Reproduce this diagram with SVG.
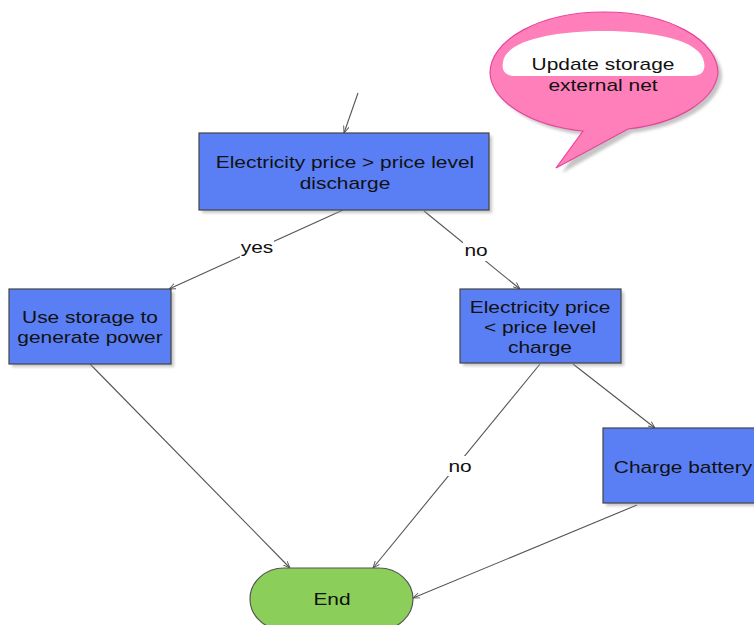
<svg xmlns="http://www.w3.org/2000/svg" width="754" height="625" viewBox="0 0 754 625">
  <style>
    .box { fill: #5a7ff5; stroke: #444; stroke-width: 1.2; }
    .shadow { fill: #9a9a9a; opacity: 0.55; }
    .end { fill: #8bcf5a; stroke: #555; stroke-width: 1.2; }
    .txt { font-family: "Liberation Sans", Arial, sans-serif; font-size: 17px; fill: #111; text-anchor: middle; }
    .conn { fill: none; stroke: #555; stroke-width: 1.1; marker-end: url(#arrow); }
    .lblbg { fill: #fff; }
  </style>
  <defs>
    <marker id="arrow" viewBox="0 0 10 10" refX="10" refY="5" markerWidth="7" markerHeight="7" orient="auto" markerUnits="userSpaceOnUse">
      <path d="M0,1 L10,5 L0,9" fill="none" stroke="#555" stroke-width="1.3"/>
    </marker>
    <filter id="soft" x="-10%" y="-10%" width="130%" height="130%">
      <feGaussianBlur stdDeviation="1.5"/>
    </filter>
  </defs>

  <rect width="754" height="625" fill="#fff"/>

  <!-- connectors -->
  <g id="connectors">
    <line class="conn" x1="358" y1="93" x2="344" y2="133"/>
    <line class="conn" x1="343" y1="210" x2="169" y2="289"/>
    <line class="conn" x1="424" y1="211" x2="520" y2="289"/>
    <line class="conn" x1="90" y1="364" x2="290" y2="568"/>
    <line class="conn" x1="540" y1="364" x2="373" y2="568"/>
    <line class="conn" x1="573" y1="364" x2="655" y2="428"/>
    <line class="conn" x1="637" y1="505" x2="413" y2="598"/>
    <!-- connector labels -->
    <rect class="lblbg" x="240" y="238" width="34" height="20"/>
    <g transform="translate(257,253) scale(1.23,1)"><text class="txt" x="0" y="0">yes</text></g>
    <rect class="lblbg" x="463" y="241" width="26" height="20"/>
    <g transform="translate(476,256) scale(1.23,1)"><text class="txt" x="0" y="0">no</text></g>
    <rect class="lblbg" x="447" y="456" width="26" height="20"/>
    <g transform="translate(460,472) scale(1.23,1)"><text class="txt" x="0" y="0">no</text></g>
  </g>

  <!-- decision: discharge -->
  <g id="node-discharge">
    <rect class="shadow" x="202" y="136" width="290" height="77" filter="url(#soft)"/>
    <rect class="box" x="199" y="133" width="290" height="77"/>
    <g transform="translate(345,168) scale(1.23,1)"><text class="txt" x="0" y="0">Electricity price &gt; price level</text></g>
    <g transform="translate(345,189) scale(1.23,1)"><text class="txt" x="0" y="0">discharge</text></g>
  </g>

  <!-- action: generate power -->
  <g id="node-generate">
    <rect class="shadow" x="12" y="292" width="162" height="75" filter="url(#soft)"/>
    <rect class="box" x="9" y="289" width="162" height="75"/>
    <g transform="translate(90,323) scale(1.23,1)"><text class="txt" x="0" y="0">Use storage to</text></g>
    <g transform="translate(90,343) scale(1.23,1)"><text class="txt" x="0" y="0">generate power</text></g>
  </g>

  <!-- decision: charge -->
  <g id="node-charge-check">
    <rect class="shadow" x="463" y="292" width="161" height="74" filter="url(#soft)"/>
    <rect class="box" x="460" y="289" width="161" height="74"/>
    <g transform="translate(540,313) scale(1.23,1)"><text class="txt" x="0" y="0">Electricity price</text></g>
    <g transform="translate(540,333) scale(1.23,1)"><text class="txt" x="0" y="0">&lt; price level</text></g>
    <g transform="translate(540,353) scale(1.23,1)"><text class="txt" x="0" y="0">charge</text></g>
  </g>

  <!-- action: charge battery -->
  <g id="node-charge-battery">
    <rect class="shadow" x="606" y="431" width="154" height="75" filter="url(#soft)"/>
    <rect class="box" x="603" y="428" width="154" height="75"/>
    <g transform="translate(683,473) scale(1.23,1)"><text class="txt" x="0" y="0">Charge battery</text></g>
  </g>

  <!-- terminator -->
  <g id="node-end">
    <rect class="end" x="250" y="568" width="163" height="62" rx="34" ry="31"/>
    <g transform="translate(332,605) scale(1.23,1)"><text class="txt" x="0" y="0">End</text></g>
  </g>

  <!-- callout -->
  <g id="node-callout">
    <path d="M490,73 A114,61 0 0 1 718,73 A114,61 0 0 1 628,129 L558,169 L583,131 A114,61 0 0 1 490,73 Z" transform="translate(4,4)" fill="#8a8a8a" opacity="0.5" filter="url(#soft)"/>
    <path d="M490,73 A114,61 0 0 1 718,73 A114,61 0 0 1 628,129 L556,168 L583,131 A114,61 0 0 1 490,73 Z" fill="#ff7fba" stroke="#e8449a" stroke-width="1.2"/>
    <path d="M503,62 C506,40 555,31 604,31 C653,31 701,40 704,62 C706,71 701,76 692,76 L515,76 C506,76 501,71 503,62 Z" fill="#fff"/>
    <g transform="translate(603,70) scale(1.23,1)"><text class="txt" x="0" y="0">Update storage</text></g>
    <g transform="translate(603,91) scale(1.23,1)"><text class="txt" x="0" y="0">external net</text></g>
  </g>
</svg>
